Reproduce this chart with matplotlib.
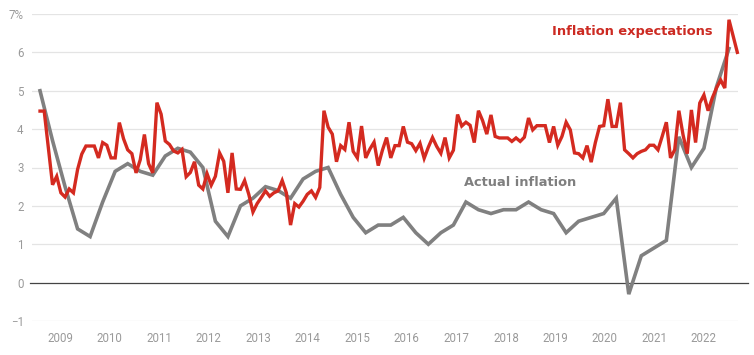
import numpy as np
import matplotlib
matplotlib.use("Agg")
import matplotlib.pyplot as plt

# ---------------- data ----------------
year_labels = ["2009", "2010", "2011", "2012", "2013", "2014", "2015",
               "2016", "2017", "2018", "2019", "2020", "2021", "2022"]

# Actual inflation, quarterly from the Sep-2008 quarter to the Jun-2022 quarter (%)
actual_inflation = [5.0, 3.7, 2.5, 1.4, 1.2, 2.1, 2.9, 3.1, 2.9, 2.8,
                    3.3, 3.5, 3.4, 3.0, 1.6, 1.2, 2.0, 2.2, 2.5, 2.4,
                    2.2, 2.7, 2.9, 3.0, 2.3, 1.7, 1.3, 1.5, 1.5, 1.7,
                    1.3, 1.0, 1.3, 1.5, 2.1, 1.9, 1.8, 1.9, 1.9, 2.1,
                    1.9, 1.8, 1.3, 1.6, 1.7, 1.8, 2.2, -0.3, 0.7, 0.9,
                    1.1, 3.8, 3.0, 3.5, 5.1, 6.1]

# Inflation expectations, monthly from Sep-2008 (%)
inflation_expectations = [
    4.47, 4.47, 3.50, 2.55, 2.77, 2.34, 2.23, 2.44, 2.34, 2.95,
    3.35, 3.56, 3.56, 3.56, 3.25, 3.65, 3.58, 3.25, 3.25, 4.17,
    3.75, 3.46, 3.36, 2.86, 3.20, 3.86, 3.10, 2.86, 4.69, 4.39,
    3.69, 3.60, 3.43, 3.38, 3.47, 2.76, 2.87, 3.15, 2.54, 2.44,
    2.84, 2.54, 2.77, 3.38, 3.16, 2.34, 3.38, 2.44, 2.43, 2.66,
    2.30, 1.84, 2.06, 2.22, 2.39, 2.25, 2.34, 2.39, 2.66, 2.34,
    1.50, 2.06, 1.97, 2.12, 2.30, 2.39, 2.22, 2.48, 4.48, 4.05,
    3.87, 3.15, 3.57, 3.47, 4.18, 3.42, 3.25, 4.08, 3.25, 3.48,
    3.66, 3.05, 3.45, 3.78, 3.25, 3.57, 3.57, 4.07, 3.66, 3.62,
    3.44, 3.63, 3.24, 3.53, 3.78, 3.55, 3.37, 3.78, 3.25, 3.45,
    4.38, 4.08, 4.18, 4.10, 3.65, 4.48, 4.22, 3.87, 4.37, 3.81,
    3.77, 3.77, 3.77, 3.68, 3.77, 3.68, 3.79, 4.29, 3.98, 4.09,
    4.09, 4.09, 3.65, 4.07, 3.58, 3.81, 4.18, 3.98, 3.38, 3.36,
    3.25, 3.57, 3.14, 3.65, 4.07, 4.09, 4.78, 4.07, 4.07, 4.69,
    3.46, 3.36, 3.25, 3.36, 3.42, 3.46, 3.58, 3.58, 3.46, 3.81,
    4.18, 3.25, 3.46, 4.48, 3.85, 3.36, 4.50, 3.65, 4.68, 4.89,
    4.48, 4.81, 5.07, 5.28, 5.07, 6.85, 6.42, 6.00]

start_year = 2008.75  # Sep 2008

# ---------------- plot ----------------
t_actual = start_year + np.arange(len(actual_inflation)) / 4.0
t_expect = start_year + np.arange(len(inflation_expectations)) / 12.0

fig = plt.figure(figsize=(7.54, 3.55), dpi=100)
ax = fig.add_axes([32 / 754, 1 - 321 / 355, 706 / 754, 307 / 355])

grid_c = "#e4e4e4"
for v in range(-1, 8):
    if v == 0:
        continue
    ax.axhline(v, color=grid_c, lw=0.9, zorder=0)
ax.axhline(0, xmin=-0.003, xmax=1.014, color="#444444", lw=0.9, zorder=1, clip_on=False)

gray = "#808080"
red = "#d42a20"
ax.plot(t_actual, actual_inflation, color=gray, lw=2.6, solid_joinstyle="miter",
        zorder=2, clip_on=False)
ax.plot(t_expect, inflation_expectations, color=red, lw=2.4, solid_joinstyle="miter",
        zorder=3, clip_on=False)

ax.set_xlim(2008.59, 2022.68)
ax.set_ylim(-1, 7)

for s in ax.spines.values():
    s.set_visible(False)

ax.set_yticks(range(-1, 8))
ax.set_yticklabels(["\u22121", "0", "1", "2", "3", "4", "5", "6", "7%"])
ax.set_xticks(np.linspace(2009.15, 2022.0, len(year_labels)))
ax.set_xticklabels(year_labels)
ax.tick_params(axis="both", length=0, colors="#9a9a9a", labelsize=8.3)
ax.tick_params(axis="y", pad=6)
ax.tick_params(axis="x", pad=8)
for lab in ax.get_xticklabels() + ax.get_yticklabels():
    lab.set_fontfamily("Roboto")

ax.text(2018.97, 6.55, "Inflation expectations", color="#cc2a22", fontsize=9.4,
        fontweight="bold", ha="left", va="center", family="DejaVu Sans")
ax.text(2017.21, 2.62, "Actual inflation", color="#7f7f7f", fontsize=9.4,
        fontweight="bold", ha="left", va="center", family="DejaVu Sans")

fig.savefig("out.png", dpi=100, facecolor="white")
